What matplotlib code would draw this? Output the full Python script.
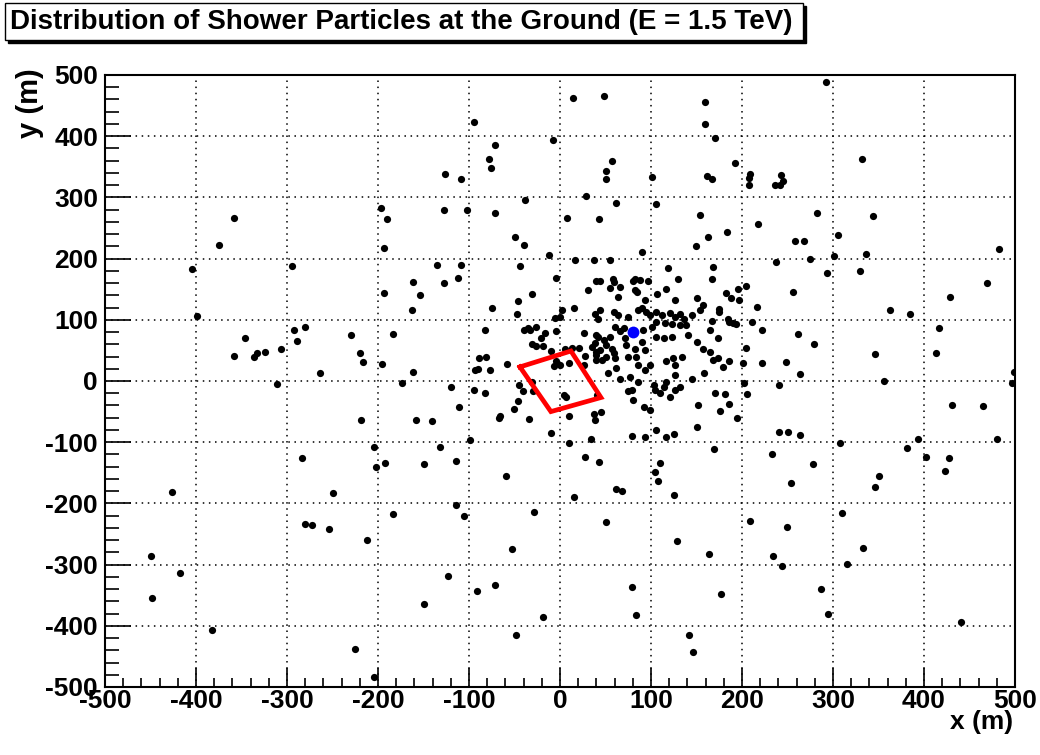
import matplotlib
matplotlib.use('Agg')
import matplotlib.pyplot as plt
from matplotlib.patches import Rectangle
from matplotlib.ticker import MultipleLocator

plt.rcParams['font.family'] = ['Liberation Sans', 'DejaVu Sans']
plt.rcParams['font.weight'] = 'bold'
plt.rcParams['axes.unicode_minus'] = False

# shower particles at ground level (m)
x = [-358, -375, -404, -295, -197, -190, -193,
     -94, 14, 48, 159, 159, 170, -8, -71, -78, -76, -126, -109, 57, 51, 50, 101, 162, 167,
     29, 61, 105, 154, 163, 149, -127, -102, -71, -39, 8, 43, -49, -40, -12, 90,
     -135, -109, -112, -44, 16, 37, 55, 119, 168, -4, 40, 44, 58, 82, 88, 130, 167,
     292, 332, 192, 209, 208, 208, 243, 245, 236, 242, 282, 344, 218, 184, 258, 268, 305,
     275, 301, 336, 482, 237, 293, 330,
     -399, -193, -163, -161, -128, -154, -292, -280, -289, -346, -358, -336, -333, -324, -307,
     -311, -264, -230, -220, -216, -196, -183, -174, -219, -204, -202, -192, -283,
     31, -31, -46, -75, -47, 2, 15, -5, 0, 44, 38, 42, -82, -40, -35, -33, -26, -16, -21, -4,
     26, -31, -26, -19, -10, 5, 13, 21, 28, -4, 0, 10, -7, 26, 40, -89, -81, -93, -90, -77,
     -58, -162, -120, -95, -82, -45, -41, -31, -30, -46, -51, -111, -158, -141, -67, -66, -34,
     4, 7, 10, -10, 37, 38, 45, 41, -99, -132, 10, 34, 28, 43, -114, -150, -59,
     38, 40, 35, 40,
     469, 429, 363, 385, 416, 346, 413, 356, 499, 497, 256, 216, 262, 279, 222, 204, 201, 222,
     248, 264, 202, 205, 241, 431, 465, 241, 251, 264, 308, 381, 393, 402, 427, 423, 480, 233,
     278, 350, 254, 169,
     182, 188, 196, 204, 197, 175, 175, 167, 185, 186, 190, 193, 211, 165, 174, 165, 168, 174,
     186, 179, 170, 181, 186, 176, 194,
     -426, -249, -184, -280, -272, -254, -212, -449, -418, -448, -382, -225, -204,
     108, 61, 68, 15, 125, -114, -106, -29, 51, 129, 164, -53, -123, -91, -71, -150, 79, 83,
     -19, -48, 142, 146,
     346, 310, 209, 249, 333, 234, 244, 315, 177, 287, 295, 441,
     59, 80, 97, 55, 66, 64, 82, 85, 93, 107, 117, 126, 150, 157, 59, 64, 75, 86, 90, 95, 99,
     106, 112, 121, 126, 132, 136, 145, 154, 106, 115, 123, 132, 139, 70, 60, 66, 91, 101, 106,
     114, 123, 141, 150, 42, 48, 55, 50, 44, 57, 71, 73, 90, 82, 93, 157,
     40, 46, 51, 59, 60, 53, 62, 66, 77, 86, 75, 79, 80, 92, 99, 86, 93, 99, 75, 84, 103, 104,
     110, 114, 117, 126, 121, 126, 132, 145, 158, 117, 126, 124, 134, 152, 150, 106, 125, 117,
     93, 79, 104, 110]
y = [266, 223, 183, 188, 282, 264, 217,
     424, 463, 465, 456, 420, 397, 393, 386, 362, 348, 339, 330, 359, 343, 330, 333, 335, 330,
     302, 291, 289, 272, 236, 221, 279, 280, 274, 296, 267, 264, 236, 222, 206, 211,
     190, 190, 169, 188, 197, 198, 198, 185, 187, 168, 163, 163, 166, 166, 165, 167, 167,
     489, 362, 356, 339, 331, 321, 337, 327, 321, 321, 274, 270, 257, 244, 229, 229, 239,
     200, 204, 207, 216, 195, 176, 179,
     107, 144, 116, 161, 160, 140, 84, 88, 66, 70, 41, 39, 45, 48, 52,
     -5, 13, 75, 46, 31, 28, 77, -4, -64, -108, -140, -134, -125,
     149, 142, 131, 119, 109, 116, 119, 103, 105, 116, 110, 102, 84, 84, 87, 84, 89, 79, 70, 81,
     78, 60, 57, 58, 49, 52, 54, 54, 41, 33, 26, 30, 25, 26, 34, 37, 40, 18, 19, 18,
     27, 14, -10, -14, -19, -6, -16, -1, -16, -32, -46, -42, -64, -66, -60, -57, -62,
     -23, -26, -58, -85, -54, -63, -50, -23, -97, -108, -102, -94, -124, -133, -130, -136, -156,
     62, 75, 56, 42,
     160, 137, 116, 110, 87, 44, 45, 0, 15, -3, 146, 121, 76, 60, 84, 54, 30, 30,
     31, 11, -4, -22, -6, -39, -41, -84, -84, -88, -101, -110, -95, -124, -126, -147, -94, -119,
     -136, -155, -167, -111,
     144, 136, 151, 155, 132, 118, 112, 98, 101, 97, 95, 93, 97, 84, 70, 48, 35, 38,
     32, 23, -19, -21, -38, -49, -60,
     -182, -183, -217, -234, -236, -242, -260, -286, -314, -355, -407, -438, -484,
     -164, -177, -179, -190, -187, -203, -220, -214, -230, -261, -283, -274, -319, -343, -333,
     -364, -337, -383, -385, -415, -415, -442,
     -174, -216, -229, -239, -273, -286, -302, -299, -348, -340, -380, -394,
     162, 163, 163, 152, 154, 138, 149, 145, 132, 142, 151, 132, 135, 124, 113, 108, 105, 116,
     120, 113, 108, 113, 108, 111, 105, 109, 102, 108, 116, 97, 94, 93, 91, 91, 86, 89, 81, 83,
     89, 72, 71, 72, 75, 64, 72, 67, 72, 59, 51, 53, 70, 59, 64, 53, 51, 53,
     48, 34, 40, 45, 37, 13, 21, 4, 7, -2, -17, -15, -31, -42, -47, 26, 18, 26, 40, 40, -6, -15,
     -20, -9, -1, 10, -26, -15, -9, 4, 13, 32, 26, 37, 40, -39, -75, -80, -86, -92,
     -91, -90, -149, -134]

# shower core
core_x = [80]
core_y = [80]

# detector outline
det_x = [-44, 12, 45, -10, -44]
det_y = [23, 49, -27, -50, 23]

title = "Distribution of Shower Particles at the Ground (E = 1.5 TeV)"

W, H = 1040, 755
fig = plt.figure(figsize=(W / 100, H / 100), dpi=100)
ax = fig.add_axes([105 / W, 1 - 687 / H, 910 / W, 612 / H])

ax.plot(x, y, 'o', color='black', markersize=5.2, markeredgewidth=0, zorder=3)
ax.plot(det_x, det_y, color='red', linewidth=3.4, solid_joinstyle='miter', zorder=4)
ax.plot(core_x, core_y, 'o', color='blue', markersize=8.5, markeredgewidth=0, zorder=5)

ax.set_xlim(-500, 500)
ax.set_ylim(-500, 500)
ax.xaxis.set_major_locator(MultipleLocator(100))
ax.xaxis.set_minor_locator(MultipleLocator(20))
ax.yaxis.set_major_locator(MultipleLocator(100))
ax.yaxis.set_minor_locator(MultipleLocator(20))
ax.grid(True, which='major', color='black', linestyle=(0, (1, 3)), linewidth=1.1)
ax.set_axisbelow(True)

ax.tick_params(axis='both', which='both', direction='in', top=False, right=False,
               labelsize=19, width=1.2)
ax.tick_params(axis='x', which='major', length=14, pad=1.5)
ax.tick_params(axis='x', which='minor', length=6.5)
ax.tick_params(axis='y', which='major', length=19, pad=5)
ax.tick_params(axis='y', which='minor', length=10)
for lab in ax.get_xticklabels() + ax.get_yticklabels():
    lab.set_fontweight('bold')
for sp in ax.spines.values():
    sp.set_linewidth(1.5)

fig.text(1013 / W, 1 - 722 / H, 'x (m)', ha='right', va='center', fontsize=19, fontweight='bold')
fig.text(30 / W, 1 - 68 / H, 'y (m)', ha='center', va='top', rotation=90,
         fontsize=21, fontweight='bold')

# title box with shadow
fig.patches.append(Rectangle((8 / W, 1 - 43 / H), 798 / W, 37 / H, transform=fig.transFigure,
                             facecolor='black', edgecolor='black', zorder=1))
fig.patches.append(Rectangle((5 / W, 1 - 40 / H), 798 / W, 37 / H, transform=fig.transFigure,
                             facecolor='white', edgecolor='black', linewidth=1, zorder=2))
fig.text(10 / W, 1 - 22 / H, title, ha='left', va='center', fontsize=20, fontweight='bold', zorder=3)

fig.savefig('out.png', dpi=100)
